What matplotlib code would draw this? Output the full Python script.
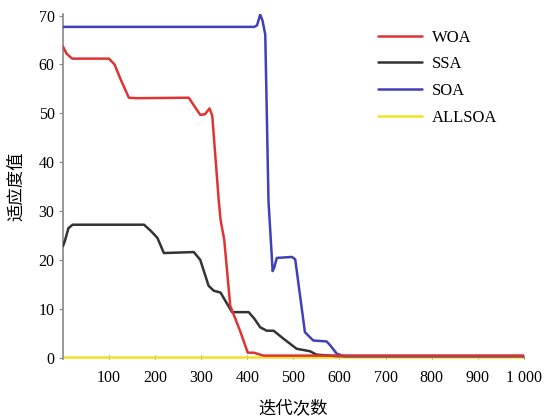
import matplotlib
matplotlib.use("Agg")
import matplotlib.pyplot as plt

# convergence curves (iteration, fitness)
woa_x = [0, 8, 20, 60, 100, 112, 125, 143, 160, 273, 285, 298, 308, 318, 324, 327, 338, 342, 350, 363, 385, 401, 414, 435, 1000]
woa_y = [63.7, 62.2, 61.2, 61.2, 61.2, 60.0, 57.0, 53.2, 53.1, 53.2, 51.5, 49.7, 49.8, 51.0, 49.5, 45.8, 32.2, 28.2, 24.1, 10.6, 5.3, 1.0, 1.0, 0.4, 0.4]

ssa_x = [0, 4, 12, 21, 176, 190, 205, 219, 284, 298, 316, 327, 342, 355, 367, 403, 415, 428, 442, 457, 478, 507, 536, 550, 594, 1000]
ssa_y = [22.8, 23.8, 26.5, 27.2, 27.2, 26.0, 24.5, 21.4, 21.6, 20.0, 14.7, 13.7, 13.3, 11.2, 9.3, 9.3, 8.0, 6.2, 5.5, 5.5, 3.9, 1.8, 1.3, 0.6, 0.3, 0.3]

soa_x = [0, 415, 421, 428, 433, 439, 446, 455, 459, 464, 497, 504, 525, 543, 572, 580, 594, 610, 1000]
soa_y = [67.7, 67.7, 68.0, 70.2, 69.0, 66.1, 32.0, 17.7, 18.6, 20.4, 20.6, 20.1, 5.2, 3.5, 3.3, 2.5, 0.8, 0.3, 0.3]

allsoa_x = [0, 1000]
allsoa_y = [0.1, 0.1]

series_names = ["WOA", "SSA", "SOA", "ALLSOA"]
x_ticks = [100, 200, 300, 400, 500, 600, 700, 800, 900, 1000]
x_tick_labels = ["100", "200", "300", "400", "500", "600", "700", "800", "900", "1 000"]
y_ticks = [0, 10, 20, 30, 40, 50, 60, 70]

plt.rcParams["font.family"] = ["Liberation Serif", "Noto Sans CJK SC"]

fig = plt.figure(figsize=(5.52, 4.17), dpi=100)
ax = fig.add_axes([0.114, 0.139, 0.835, 0.827])

lw = 1.8
style = dict(lw=lw, solid_joinstyle="round", solid_capstyle="round")
ax.plot(allsoa_x, allsoa_y, color="#f2e227", label=series_names[3], zorder=2, **style)
ax.plot(soa_x, soa_y, color="#4040b8", label=series_names[2], zorder=3, **style)
ax.plot(ssa_x, ssa_y, color="#333333", label=series_names[1], zorder=4, **style)
ax.plot(woa_x, woa_y, color="#e03434", label=series_names[0], zorder=5, **style)

ax.set_xlim(0, 1000)
ax.set_ylim(-0.3, 70.3)
ax.set_xticks(x_ticks)
ax.set_xticklabels(x_tick_labels)
ax.set_yticks(y_ticks)

for side in ("top", "right", "bottom"):
    ax.spines[side].set_visible(False)
ax.spines["left"].set_color("#888888")
ax.spines["left"].set_linewidth(1.2)
ax.tick_params(axis="y", direction="out", length=3, color="#888888", labelsize=11.5, pad=3)
ax.tick_params(axis="x", direction="in", length=3, color="#888888", labelsize=11.5, pad=8)

ax.set_xlabel("迭代次数", fontsize=12.5, labelpad=10)
ax.set_ylabel("适应度值", fontsize=12.5, labelpad=9.5)

handles, labels = ax.get_legend_handles_labels()
order = [3, 2, 1, 0]
ax.legend([handles[i] for i in order], [labels[i] for i in order],
          loc="upper right", bbox_to_anchor=(0.975, 0.999), frameon=False,
          fontsize=12, handlelength=2.64, handletextpad=0.6, labelspacing=0.64)

fig.savefig("out.png", dpi=100)
